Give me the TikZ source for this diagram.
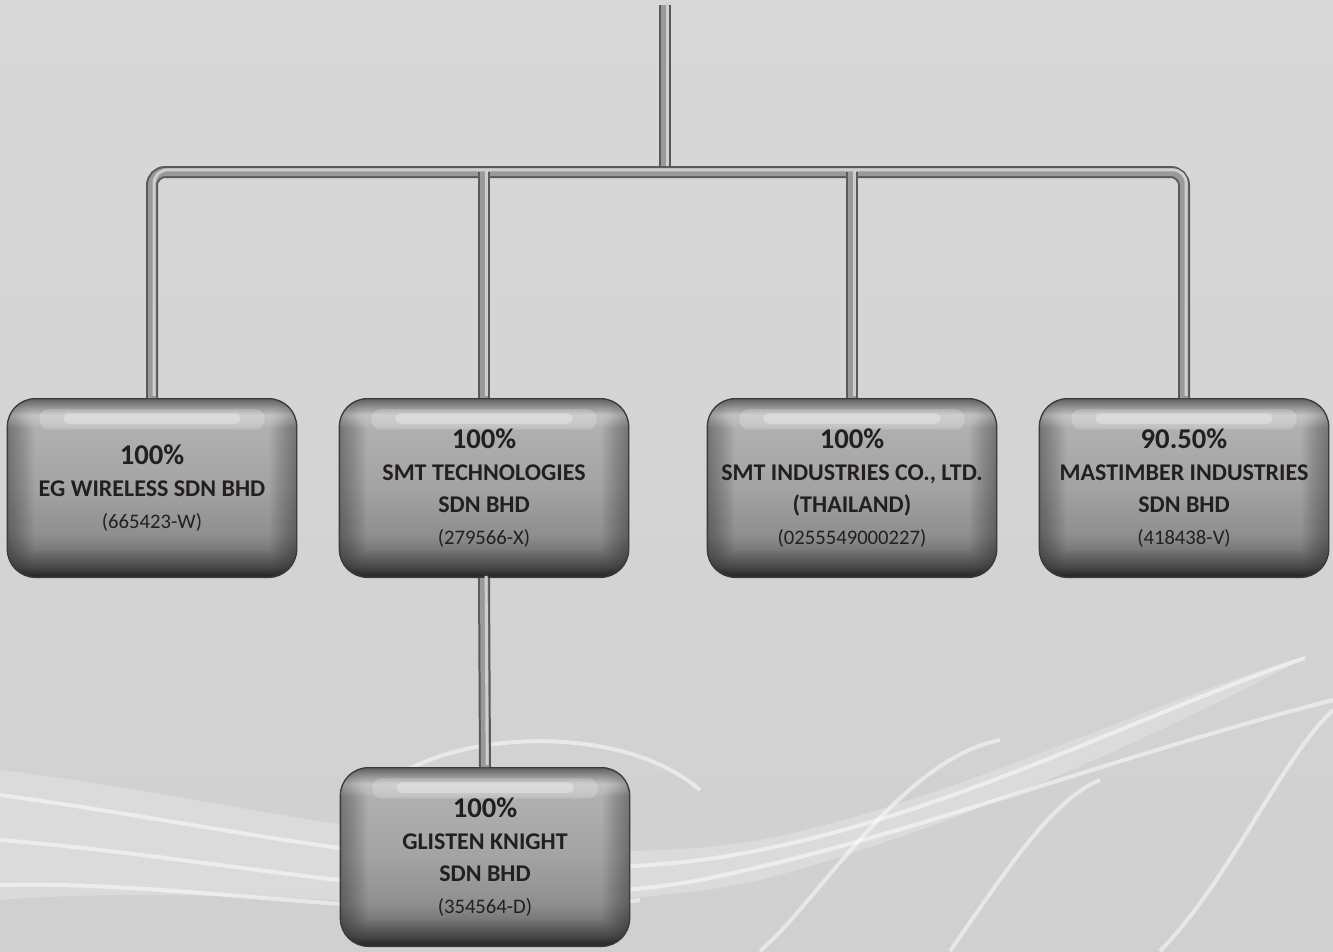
\documentclass[tikz,border=0pt]{standalone}
\usepackage{fontspec}
\setmainfont{Carlito}
\definecolor{bgtop}{HTML}{D8D8D8}
\definecolor{bgbot}{HTML}{D0D0D0}
\definecolor{boxedge}{HTML}{3A3A3A}
\definecolor{pipedark}{HTML}{5A5A5A}
\definecolor{pipemid}{HTML}{9A9A9A}
\definecolor{pipelight}{HTML}{CFCFCF}
\definecolor{ink}{HTML}{231F20}
\pgfdeclareverticalshading{firmshade}{100bp}{color(0bp)=(boxedge); color(25bp)=(boxedge);
  color(28bp)=(black!62); color(37bp)=(black!44); color(50bp)=(black!36);
  color(67bp)=(black!31); color(70.5bp)=(black!10); color(72.5bp)=(black!22);
  color(75bp)=(black!42); color(100bp)=(black!42)}
\newcommand\stake[1]{{\fontsize{21.5}{24}\selectfont #1}}
\newcommand\regno[1]{{\mdseries\fontsize{15.5}{24}\selectfont #1}}
\begin{document}
\begin{tikzpicture}[x=0.75pt,y=-0.75pt,
  firm/.style={rounded corners=21pt, minimum width=217pt, minimum height=134pt,
    draw=boxedge, line width=1pt, shading=firmshade, align=center, text=ink,
    font=\fontsize{18}{24}\selectfont\bfseries,
    path picture={
      \foreach \w in {40,36,...,4}
        \draw[black,opacity=.035,line width=\w pt,rounded corners=21pt]
          (path picture bounding box.south west) rectangle (path picture bounding box.north east);
      \fill[white,opacity=.2,rounded corners=7pt]
        ([xshift=24pt,yshift=-8pt]path picture bounding box.north west) rectangle
        ([xshift=-24pt,yshift=-23pt]path picture bounding box.north east);
      \fill[white,opacity=.3,rounded corners=4pt]
        ([xshift=42pt,yshift=-11pt]path picture bounding box.north west) rectangle
        ([xshift=-42pt,yshift=-19pt]path picture bounding box.north east);}},
  pipe/.style={rounded corners=10pt, draw=pipemid, line width=6pt,
    preaction={draw=pipedark, line width=9pt},
    postaction={draw=pipelight, line width=2.2pt, transform canvas={xshift=1.6pt,yshift=1.6pt}}},
  wave/.style={draw=white, line width=3pt, opacity=.5}]
\useasboundingbox (0,0) rectangle (1333,951);
\shade[top color=bgtop, bottom color=bgbot] (0,0) rectangle (1333,951);

% background swirl
\fill[white,opacity=.22] (0,770) .. controls (250,800) and (520,880) .. (760,840)
  .. controls (960,800) and (1150,700) .. (1310,655)
  .. controls (1150,740) and (950,830) .. (760,880)
  .. controls (520,930) and (250,880) .. (0,900) -- cycle;
\draw[wave] (0,795) .. controls (260,830) and (520,900) .. (760,850)
  .. controls (960,810) and (1150,710) .. (1305,658);
\draw[wave] (0,840) .. controls (250,860) and (480,920) .. (700,880)
  .. controls (900,840) and (1100,760) .. (1333,700);
\draw[wave] (0,885) .. controls (200,880) and (420,930) .. (640,900);
\draw[wave] (380,790) .. controls (440,730) and (620,720) .. (700,790);
\draw[wave] (760,951) .. controls (820,900) and (900,760) .. (1000,740);
\draw[wave] (1160,951) .. controls (1230,880) and (1280,760) .. (1333,710);
\draw[wave] (950,951) .. controls (1000,880) and (1050,800) .. (1100,780);

\node[firm] (eg) at (152,488) {\stake{100\%}\\EG WIRELESS SDN BHD\\\regno{(665423-W)}};
\node[firm] (smt) at (484,488) {\stake{100\%}\\SMT TECHNOLOGIES\\SDN BHD\\\regno{(279566-X)}};
\node[firm] (thai) at (852,488) {\stake{100\%}\\SMT INDUSTRIES CO., LTD.\\(THAILAND)\\\regno{(0255549000227)}};
\node[firm] (mas) at (1184,488) {\stake{90.50\%}\\MASTIMBER INDUSTRIES\\SDN BHD\\\regno{(418438-V)}};
\node[firm] (gk) at (485,857) {\stake{100\%}\\GLISTEN KNIGHT\\SDN BHD\\\regno{(354564-D)}};

\coordinate (top) at (665,5);
\coordinate (bar) at (665,172);

\draw[pipe] (top) -- (bar);
\draw[pipe] (eg.north) |- (bar) -| (mas.north);
\draw[pipe] (smt.north) -- (smt.north |- bar);
\draw[pipe] (thai.north) -- (thai.north |- bar);
\draw[pipe] (smt.south) -- (gk.north);
\end{tikzpicture}
\end{document}
